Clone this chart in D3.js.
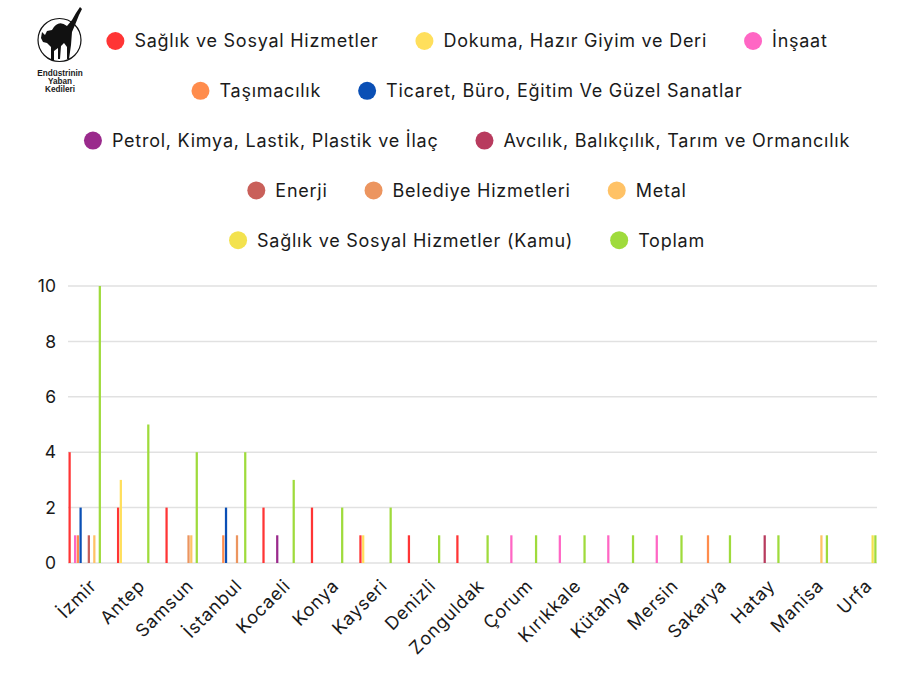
<!DOCTYPE html>
<html>
<head>
<meta charset="utf-8">
<script src="https://cdn.jsdelivr.net/npm/d3@7"></script>
<style>
  html, body { margin: 0; padding: 0; background: #fff; }
  svg { display: block; }
  text { font-family: Inter, "Open Sans", sans-serif; fill: #1a1a1a; }
</style>
</head>
<body>
<svg id="chart" width="910" height="683"></svg>
<script>
const cities = ["İzmir","Antep","Samsun","İstanbul","Kocaeli","Konya","Kayseri","Denizli","Zonguldak","Çorum","Kırıkkale","Kütahya","Mersin","Sakarya","Hatay","Manisa","Urfa"];
const seriesNames = ["Sağlık ve Sosyal Hizmetler","Dokuma, Hazır Giyim ve Deri","İnşaat","Taşımacılık","Ticaret, Büro, Eğitim Ve Güzel Sanatlar","Petrol, Kimya, Lastik, Plastik ve İlaç","Avcılık, Balıkçılık, Tarım ve Ormancılık","Enerji","Belediye Hizmetleri","Metal","Sağlık ve Sosyal Hizmetler (Kamu)","Toplam"];
const seriesColors = ["#ff3535","#ffdf5c","#ff66c4","#ff8c4c","#0a4fb5","#9a2a8c","#b83b5e","#c9605a","#ec955f","#ffc266","#f3e24e","#9fdb3c"];
const saglik      = [4,2,2,0,2,2,1,1,1,0,0,0,0,0,0,0,0];
const dokuma      = [0,3,0,0,0,0,1,0,0,0,0,0,0,0,0,0,0];
const insaat      = [1,0,0,0,0,0,0,0,0,1,1,1,1,0,0,0,0];
const tasimacilik = [1,0,0,1,0,0,0,0,0,0,0,0,0,1,0,0,0];
const ticaret     = [2,0,0,2,0,0,0,0,0,0,0,0,0,0,0,0,0];
const petrol      = [0,0,0,0,1,0,0,0,0,0,0,0,0,0,0,0,0];
const avcilik     = [0,0,0,0,0,0,0,0,0,0,0,0,0,0,1,0,0];
const enerji      = [1,0,0,0,0,0,0,0,0,0,0,0,0,0,0,0,0];
const belediye    = [0,0,1,1,0,0,0,0,0,0,0,0,0,0,0,0,0];
const metal       = [1,0,1,0,0,0,0,0,0,0,0,0,0,0,0,1,0];
const kamu        = [0,0,0,0,0,0,0,0,0,0,0,0,0,0,0,0,1];
const toplam      = [10,5,4,4,3,2,2,1,1,1,1,1,1,1,1,1,1];
const yTicks = [0,2,4,6,8,10];
const legendRows = [[0,1,2],[3,4],[5,6],[7,8,9],[10,11]];
const logoLines = ["Endüstrinin","Yaban","Kedileri"];

const seriesValues = [saglik,dokuma,insaat,tasimacilik,ticaret,petrol,avcilik,enerji,belediye,metal,kamu,toplam];

const svg = d3.select("#chart");

// Logo
const logo = svg.append("g").attr("class","logo");
logo.append("circle").attr("cx",59.5).attr("cy",40).attr("r",21.5)
  .attr("fill","#fff").attr("stroke","#111").attr("stroke-width",1.2);
logo.append("path")
  .attr("d","M42,32 L45,35 L47,31 L52,30 Q58,19 67,26 L72,20 L76,13 L80,7 L82,9 L79,15 L75,25 L72,32 L71,45 L69,59 L67,59 L67,47 L64,43 L61,46 L60,59 L58,59 L58,48 L54,51 L54,60 L51,60 L51,47 L47,43 L43,42 L41,38 Z")
  .attr("fill","#111");
logo.selectAll("text.logo-t").data(logoLines).enter()
  .append("text").attr("class","logo-t")
  .attr("x",60).attr("y",(d,i)=>75.5+i*8.4)
  .attr("text-anchor","middle")
  .style("font-size","8.2px").style("font-weight","700")
  .style("font-family","'Liberation Sans', Arial, sans-serif")
  .text(d=>d);

// Legend
const legendCenter = 467;
legendRows.forEach((row, ri) => {
  const yy = 41 + ri * 49.8;
  const g = svg.append("g");
  const items = row.map(si => {
    const t = g.append("text").attr("y", yy).attr("dy","0.35em")
      .style("font-size", "18px").style("letter-spacing","0.75px").text(seriesNames[si]);
    return {si, t, w: t.node().getComputedTextLength()};
  });
  const circleD = 18, gapCT = 10, gapItem = 37;
  const total = d3.sum(items, d => circleD + gapCT + d.w) + gapItem * (items.length - 1);
  let x = legendCenter - total / 2;
  items.forEach(it => {
    g.append("circle").attr("cx", x + circleD/2).attr("cy", yy).attr("r", circleD/2)
      .attr("fill", seriesColors[it.si]);
    it.t.attr("x", x + circleD + gapCT);
    x += circleD + gapCT + it.w + gapItem;
  });
});

// Scales
const x0 = d3.scaleBand().domain(cities).range([68, 877]).paddingInner(0.31).paddingOuter(0);
const x1 = d3.scaleBand().domain(d3.range(seriesNames.length)).range([0, x0.bandwidth()]).padding(0.18);
const y = d3.scaleLinear().domain([0, 10]).range([563, 286]);

// Grid
svg.append("g").selectAll("line").data(yTicks).enter().append("line")
  .attr("x1", 68).attr("x2", 877)
  .attr("y1", d => y(d)).attr("y2", d => y(d))
  .attr("stroke", "#e1e1e1").attr("stroke-width", 1.5);

// Y axis labels
const yAxis = d3.axisLeft(y).tickValues(yTicks).tickSize(0).tickPadding(0);
const yg = svg.append("g").attr("transform","translate(56,0)").call(yAxis);
yg.select(".domain").remove();
yg.selectAll("text").style("font-size","17.5px").style("font-family","Inter, sans-serif").attr("fill","#1a1a1a");

// Bars
const groups = svg.append("g").selectAll("g").data(cities).enter().append("g")
  .attr("transform", d => `translate(${x0(d)},0)`);
groups.selectAll("rect").data((c, ci) => seriesValues.map((vals, si) => ({si, v: vals[ci]})))
  .enter().append("rect")
  .attr("x", d => x1(d.si))
  .attr("width", x1.bandwidth())
  .attr("y", d => y(d.v))
  .attr("height", d => y(0) - y(d.v))
  .attr("fill", d => seriesColors[d.si]);

// X axis labels
const xAxis = d3.axisBottom(x0).tickSize(0).tickPadding(0);
const xg = svg.append("g").attr("transform","translate(0,578)").call(xAxis);
xg.select(".domain").remove();
xg.selectAll("text")
  .style("font-size","18px").style("letter-spacing","0.8px").style("font-family","Inter, sans-serif").attr("fill","#1a1a1a")
  .attr("text-anchor","end")
  .attr("dy","0.7em")
  .attr("transform","translate(4,0) rotate(-45)");
</script>
</body>
</html>
